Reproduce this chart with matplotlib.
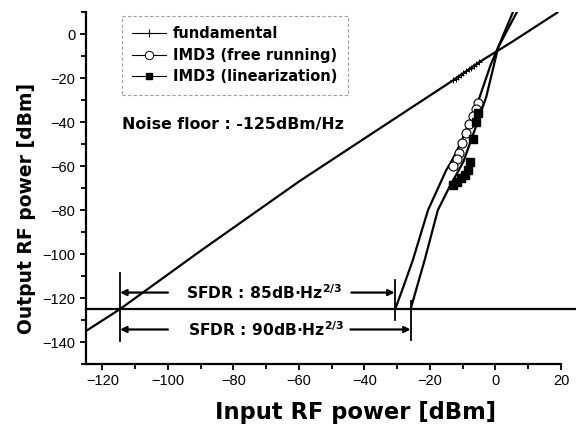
import matplotlib
matplotlib.use("Agg")
import matplotlib.pyplot as plt
from matplotlib.lines import Line2D
from matplotlib.ticker import MultipleLocator

# ---- data ----
fund_x = [-125, -114.6, -90, -60, -35, -13, -5, 5, 19]
fund_y = [-135, -125, -98.5, -67, -42.5, -21, -12.7, -3.5, 10]
fund_mx = [-13.0, -12.2, -11.4, -10.6, -9.8, -9.0, -8.2, -7.4, -6.6, -5.8, -5.0]
fund_my = [-21.0, -20.2, -19.3, -18.5, -17.7, -16.8, -16.0, -15.2, -14.3, -13.5, -12.7]

free_x = [-30.6, -28.0, -25.2, -20.6, -15.0, -13.5, -10.6, -4.8, -1.5, 0.8, 5.3]
free_y = [-125.0, -114.4, -102.6, -80.0, -61.7, -58.0, -49.5, -28.4, -14.0, -6.0, 10.0]
circ_x = [-5.3, -6.0, -7.0, -8.1, -8.9, -10.1, -11.1, -11.9, -13.1]
circ_y = [-31.4, -34.1, -37.1, -40.9, -45.0, -49.5, -53.8, -56.8, -59.9]

lin_x = [-25.9, -23.6, -21.6, -17.6, -14.0, -9.8, -5.5, -2.8, -0.8, 0.8, 6.5]
lin_y = [-125.0, -113.0, -102.6, -80.0, -69.3, -58.0, -40.0, -28.4, -16.0, -6.0, 10.0]
sq_x = [-5.3, -6.0, -6.8, -7.8, -8.4, -9.4, -10.4, -11.9, -13.1]
sq_y = [-35.9, -39.7, -47.7, -57.9, -61.7, -64.0, -65.5, -67.0, -68.5]

noise_floor = -125
noise_x = [-125, 24.6]

x_ticks = [-120, -100, -80, -60, -40, -20, 0, 20]
y_ticks = [0, -20, -40, -60, -80, -100, -120, -140]

# SFDR annotation geometry
fund_cross = -114.6
free_cross = -30.8
lin_cross = -25.9
sfdr_up_y = -117.5
sfdr_lo_y = -134.3

BOLD = "DejaVu Sans"
TICKF = "Liberation Sans"

fig = plt.figure(figsize=(5.76, 4.25), dpi=100)
ax = fig.add_axes([86 / 576, 1 - 364 / 425, 475 / 576, 351.7 / 425])

ax.plot(fund_x, fund_y, color="k", lw=1.6, solid_capstyle="round")
ax.plot(fund_mx, fund_my, ls="none", marker="+", ms=5, mew=0.7, color="k")
ax.plot(free_x, free_y, color="k", lw=1.6)
ax.plot(lin_x, lin_y, color="k", lw=1.6)
ax.plot(circ_x, circ_y, ls="none", marker="o", ms=6.5, mfc="white", mec="k", mew=0.8)
ax.plot(sq_x, sq_y, ls="none", marker="s", ms=5.5, mfc="k", mec="k")

ax.plot(noise_x, [noise_floor, noise_floor], color="k", lw=1.6, clip_on=False)

# vertical markers
ax.plot([fund_cross, fund_cross], [-108.6, -139.7], color="k", lw=1.3)
ax.plot([free_cross, free_cross], [-111.7, -130.0], color="k", lw=1.3)
ax.plot([lin_cross, lin_cross], [-121.5, -139.3], color="k", lw=1.3)

ap = dict(arrowstyle="-|>", lw=1.6, color="k", mutation_scale=9, shrinkA=0, shrinkB=0)
ax.annotate("", xy=(fund_cross, sfdr_up_y), xytext=(-100, sfdr_up_y), arrowprops=ap)
ax.annotate("", xy=(free_cross, sfdr_up_y), xytext=(-44, sfdr_up_y), arrowprops=ap)
ax.annotate("", xy=(fund_cross, sfdr_lo_y), xytext=(-100, sfdr_lo_y), arrowprops=ap)
ax.annotate("", xy=(lin_cross, sfdr_lo_y), xytext=(-44.3, sfdr_lo_y), arrowprops=ap)

ax.text(-94.4, sfdr_up_y, r"SFDR : 85dB·Hz$^{\mathbf{2/3}}$", fontsize=11.2, fontweight="bold",
        family=BOLD, va="center", ha="left")
ax.text(-94.0, sfdr_lo_y, r"SFDR : 90dB·Hz$^{\mathbf{2/3}}$", fontsize=11.2, fontweight="bold",
        family=BOLD, va="center", ha="left")
ax.text(-114.0, -41.2, "Noise floor : -125dBm/Hz", fontsize=11.3, fontweight="bold",
        family=BOLD, va="center", ha="left")

# axes styling
ax.set_xlim(-125, 20)
ax.set_ylim(-150, 10)
ax.set_xticks(x_ticks)
ax.set_yticks(y_ticks)
ax.xaxis.set_minor_locator(MultipleLocator(10))
ax.yaxis.set_minor_locator(MultipleLocator(10))
for s in ("top", "right"):
    ax.spines[s].set_visible(False)
for s in ("left", "bottom"):
    ax.spines[s].set_linewidth(1.6)
ax.tick_params(which="major", direction="out", length=4, width=1.3, labelsize=10.5)
ax.tick_params(which="minor", direction="out", length=3.5, width=1.3)
for lab in ax.get_xticklabels() + ax.get_yticklabels():
    lab.set_family(TICKF)

fig.text(355.5 / 576, 1 - 412.7 / 425, "Input RF power [dBm]", fontsize=16.3,
         fontweight="bold", family=BOLD, ha="center", va="center")
fig.text(27 / 576, 1 - 208 / 425, "Output RF power [dBm]", fontsize=13.5,
         fontweight="bold", family=BOLD, ha="center", va="center", rotation=90)

handles = [
    Line2D([], [], color="k", lw=0.8, marker="+", ms=6, mew=0.8),
    Line2D([], [], color="k", lw=0.8, marker="o", ms=6, mfc="white", mew=0.7),
    Line2D([], [], color="k", lw=0.8, marker="s", ms=5, mfc="k"),
]
labels = ["fundamental", "IMD3 (free running)", "IMD3 (linearization)"]
leg = ax.legend(handles, labels, loc="upper left", bbox_to_anchor=(0.075, 0.99),
                borderaxespad=0, fancybox=False, handlelength=2.3, handletextpad=0.5,
                labelspacing=0.45, borderpad=0.72,
                prop=dict(family=BOLD, weight="bold", size=10.5))
fr = leg.get_frame()
fr.set_edgecolor("#888888")
fr.set_linewidth(0.8)
fr.set_linestyle((0, (3, 2)))

fig.savefig("out.png", dpi=100)
